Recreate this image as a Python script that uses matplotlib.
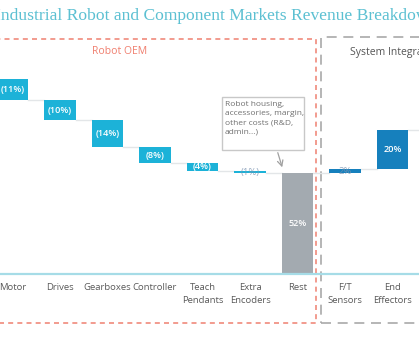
import matplotlib.pyplot as plt
from matplotlib.patches import Rectangle

# data
categories = ['Motor', 'Drives', 'Gearboxes', 'Controller', 'Teach\nPendants',
              'Extra\nEncoders', 'Rest', 'F/T\nSensors', 'End\nEffectors']
values = [-11, -10, -14, -8, -4, -1, 52, 2, 20]
kinds = ['oem', 'oem', 'oem', 'oem', 'oem', 'oem', 'total', 'si', 'si']
labels = ['(11%)', '(10%)', '(14%)', '(8%)', '(4%)', '(1%)', '52%', '2%', '20%']
start = 100

colors = {'oem': '#1CB2D8', 'total': '#A3AAB0', 'si': '#1680BD'}

W, H = 419, 350
fig = plt.figure(figsize=(W / 100, H / 100), dpi=100)
ax = fig.add_axes([0, 0, 1, 1])
x0, dx = 12.5, 47.5      # pixel of first category, pixel step
base, ppu = 274, 1.95    # baseline pixel, pixels per percent
ax.set_xlim(-x0 / dx, (W - x0) / dx)
ax.set_ylim(-(H - base) / ppu, base / ppu)
ax.axis('off')

def px(x, y):
    # pixel (from top-left) -> data
    return (x - x0) / dx, (base - y) / ppu

bw = 0.67
level = start
bars = []
for i, (v, k) in enumerate(zip(values, kinds)):
    if k == 'total':
        bot, top = 0, v
        level = v
    elif v < 0:
        bot, top = level + v, level
        level = level + v
    else:
        bot, top = level, level + v
        level = level + v
    bars.append((bot, top))
    ax.bar(i, top - bot, bottom=bot, width=bw, color=colors[k], zorder=3)

# connector lines
for i in range(len(bars)):
    if i + 1 < len(bars):
        lv = bars[i][0] if values[i] < 0 else bars[i][1]
        ax.plot([i + bw / 2, i + 1 - bw / 2], [lv, lv], color='#E3E6E8', lw=1, zorder=2)
ax.plot([len(bars) - 1 + bw / 2, len(bars) + 1], [bars[-1][1]] * 2, color='#E3E6E8', lw=1, zorder=2)

# bar labels
for i, (b, lab) in enumerate(zip(bars, labels)):
    h = b[1] - b[0]
    mid = (b[0] + b[1]) / 2
    if h >= 3:
        ax.text(i, mid, lab, ha='center', va='center', color='white', fontsize=6.6,
                family='Open Sans', fontweight='semibold', zorder=4)
    else:
        ax.text(i, mid - 0.3, lab, ha='center', va='center', color='#7A93B0', fontsize=6.8,
                family='Open Sans', zorder=4, alpha=0.8)

# baseline
ax.axhline(0, color='#A6DCE7', lw=1.6, zorder=4)

# category labels
for i, c in enumerate(categories):
    ax.text(i, px(0, 283)[1], c, ha='center', va='top', fontsize=6.8, color='#5A5A5A',
            family='Open Sans', linespacing=1.55)

# dashed group boxes
l, t = px(-30, 38.5)
r, b = px(316, 323)
ax.add_patch(Rectangle((l, b), r - l, t - b, fill=False, ec='#F08A7C', lw=1.2,
                       ls=(0, (3, 2.5)), zorder=1))
l, t = px(320.5, 37)
r, b = px(460, 323)
ax.add_patch(Rectangle((l, b), r - l, t - b, fill=False, ec='#A9A9A9', lw=1.2,
                       ls=(0, (6, 4)), zorder=1))
ax.text(*px(120, 52), 'Robot OEM', ha='center', va='center', color='#F07E6E',
        fontsize=7.5, family='Open Sans')
ax.text(*px(350, 52), 'System Integration', ha='left', va='center', color='#555555',
        fontsize=7.5, family='Open Sans')

# callout
bx0, by0 = px(222, 150)
bx1, by1 = px(304, 97)
ax.add_patch(Rectangle((bx0, by0), bx1 - bx0, by1 - by0, fc='white', ec='#C8C8C8', lw=1, zorder=5))
ax.text(*px(225, 101), 'Robot housing,\naccessories, margin,\nother costs (R&D,\nadmin...)',
        ha='left', va='top', fontsize=6.0, color='#707070', family='Open Sans',
        linespacing=1.4, zorder=6)
ax.annotate('', xy=px(283, 170), xytext=px(277, 150),
            arrowprops=dict(arrowstyle='->', color='#A0A0A0', lw=0.9), zorder=6)

# title
fig.text(-5 / W, 1 - 16 / H, 'Industrial Robot and Component Markets Revenue Breakdown',
         ha='left', va='center', fontsize=12.6, color='#5CC0D2', family='Liberation Serif')

fig.savefig('out.png', dpi=100)
